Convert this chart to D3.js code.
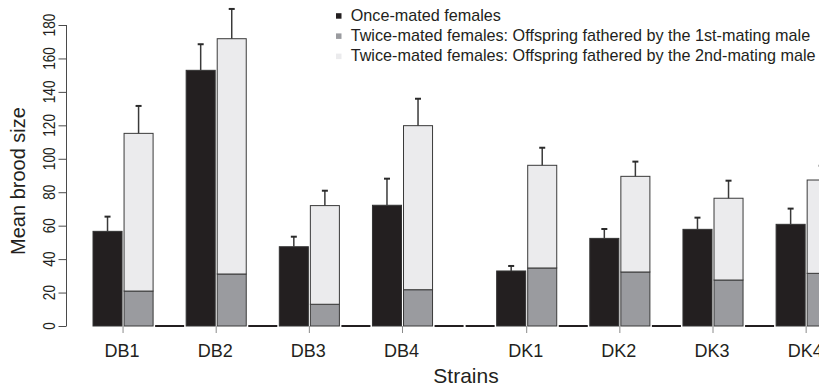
<!DOCTYPE html>
<html>
<head>
<meta charset="utf-8">
<script src="https://cdn.jsdelivr.net/npm/d3@7"></script>
<style>
	html, body { margin: 0; padding: 0; background: #fff; }
	svg { display: block; font-family: "Liberation Sans", Arial, sans-serif; }
</style>
</head>
<body>
<svg id="chart" width="819" height="386"></svg>
<script>
// Values
const strains = ["DB1", "DB2", "DB3", "DB4", "DK1", "DK2", "DK3", "DK4"];
const onceMated = [56.6, 152.9, 47.4, 72.2, 32.9, 52.4, 57.8, 60.8];
const onceMatedErr = [8.8, 15.6, 6.0, 15.9, 3.0, 5.6, 7.0, 9.4];
const firstMale = [20.9, 31.1, 13.0, 21.7, 34.7, 32.3, 27.5, 31.5];
const secondMale = [94.3, 140.7, 59.0, 98.1, 61.4, 57.2, 48.9, 55.8];
const twiceMatedErr = [16.4, 17.8, 8.9, 16.1, 10.5, 8.8, 10.5, 8.6];
const yTicks = [0, 20, 40, 60, 80, 100, 120, 140, 160, 180];

const legendLabels = [
	"Once-mated females",
	"Twice-mated females: Offspring fathered by the 1st-mating male",
	"Twice-mated females: Offspring fathered by the 2nd-mating male",
];

const colors = {
	once: "#231f20",
	first: "#9a9b9f",
	second: "#ebebed",
	ink: "#231f20",
	axis: "#4a4a4a",
};

function whenDocumentLoaded(action) {
	if (document.readyState === "loading") {
		document.addEventListener("DOMContentLoaded", action);
	} else {
		action();
	}
}

function drawChart() {
	const svg = d3.select("#chart");

	// each strain: once-mated bar, stacked twice-mated bar, empty slot;
	// one extra empty slot separates the DB and DK strains
	const slots = [];
	strains.forEach((s, i) => {
		slots.push(s + "-once", s + "-twice", s + "-gap");
		if (s === "DB4") slots.push("break");
	});

	const x = d3
		.scaleBand()
		.domain(slots)
		.range([92, 92 + slots.length * 31.05])
		.paddingInner(0.065)
		.paddingOuter(0.0325);

	const y = d3.scaleLinear().domain([0, 180]).range([326, 25]);

	const rows = strains.map((s, i) => ({
		strain: s,
		once: onceMated[i],
		onceErr: onceMatedErr[i],
		first: firstMale[i],
		second: secondMale[i],
		twiceErr: twiceMatedErr[i],
	}));

	const plot = svg.append("g");

	// zero-height bars in the empty slots
	plot
		.selectAll("line.zero")
		.data(slots.filter((d) => d.endsWith("-gap") || d === "break"))
		.join("line")
		.attr("class", "zero")
		.attr("x1", (d) => x(d))
		.attr("x2", (d) => x(d) + x.bandwidth())
		.attr("y1", y(0))
		.attr("y2", y(0))
		.attr("stroke", colors.ink)
		.attr("stroke-width", 2);

	// once-mated bars
	plot
		.selectAll("rect.once")
		.data(rows)
		.join("rect")
		.attr("class", "once")
		.attr("x", (d) => x(d.strain + "-once"))
		.attr("width", x.bandwidth())
		.attr("y", (d) => y(d.once))
		.attr("height", (d) => y(0) - y(d.once))
		.attr("fill", colors.once)
		.attr("stroke", "#333")
		.attr("stroke-width", 1);

	// twice-mated stacked bars
	const stack = d3.stack().keys(["first", "second"])(rows);
	const stackFill = { first: colors.first, second: colors.second };

	plot
		.selectAll("g.layer")
		.data(stack)
		.join("g")
		.attr("class", "layer")
		.attr("fill", (d) => stackFill[d.key])
		.selectAll("rect")
		.data((d) => d)
		.join("rect")
		.attr("x", (d) => x(d.data.strain + "-twice"))
		.attr("width", x.bandwidth())
		.attr("y", (d) => y(d[1]))
		.attr("height", (d) => y(d[0]) - y(d[1]))
		.attr("stroke", "#3a3a3a")
		.attr("stroke-width", 1);

	// upper error bars
	const errs = [];
	rows.forEach((d) => {
		errs.push({ slot: d.strain + "-once", top: d.once, err: d.onceErr });
		errs.push({ slot: d.strain + "-twice", top: d.first + d.second, err: d.twiceErr });
	});

	const err = plot.selectAll("g.err").data(errs).join("g").attr("class", "err");
	err
		.append("line")
		.attr("x1", (d) => x(d.slot) + x.bandwidth() / 2)
		.attr("x2", (d) => x(d.slot) + x.bandwidth() / 2)
		.attr("y1", (d) => y(d.top))
		.attr("y2", (d) => y(d.top + d.err))
		.attr("stroke", "#3a3a3a")
		.attr("stroke-width", 1.5);
	err
		.append("line")
		.attr("x1", (d) => x(d.slot) + x.bandwidth() / 2 - 3)
		.attr("x2", (d) => x(d.slot) + x.bandwidth() / 2 + 3)
		.attr("y1", (d) => y(d.top + d.err))
		.attr("y2", (d) => y(d.top + d.err))
		.attr("stroke", "#2a2a2a")
		.attr("stroke-width", 2);

	// y axis
	const yAxis = svg
		.append("g")
		.attr("transform", "translate(66.5,0)")
		.call(d3.axisLeft(y).tickValues(yTicks).tickSize(8).tickSizeOuter(0).tickFormat(""));
	yAxis.selectAll("path, line").attr("stroke", colors.axis);
	yAxis.select("path").attr("d", `M0,${y(0)}V${y(180)}`);

	svg
		.append("g")
		.selectAll("text")
		.data(yTicks)
		.join("text")
		.attr("transform", (d) => `translate(55,${y(d)}) rotate(-90)`)
		.attr("text-anchor", "middle")
		.attr("font-size", 17)
		.attr("textLength", (d) => String(d).length * 7.6)
		.attr("lengthAdjust", "spacingAndGlyphs")
		.attr("fill", colors.ink)
		.text((d) => d);

	// x ticks between the two bars of each strain
	const tickX = (s) => x(s + "-once") + x.bandwidth() + (x.step() - x.bandwidth()) / 2;

	const xTicks = svg.append("g");
	xTicks
		.selectAll("line")
		.data(strains)
		.join("line")
		.attr("x1", (d) => tickX(d))
		.attr("x2", (d) => tickX(d))
		.attr("y1", y(0))
		.attr("y2", y(0) + 7)
		.attr("stroke", "#8a8a8a")
		.attr("stroke-width", 1);
	xTicks
		.selectAll("text")
		.data(strains)
		.join("text")
		.attr("x", (d) => tickX(d) - 1)
		.attr("y", 357)
		.attr("text-anchor", "middle")
		.attr("font-size", 18)
		.attr("fill", colors.ink)
		.text((d) => d);

	// axis titles
	svg
		.append("text")
		.attr("x", 466)
		.attr("y", 383)
		.attr("text-anchor", "middle")
		.attr("font-size", 21)
		.attr("fill", colors.ink)
		.text("Strains");

	svg
		.append("text")
		.attr("transform", "translate(25,181) rotate(-90)")
		.attr("text-anchor", "middle")
		.attr("font-size", 20)
		.attr("fill", colors.ink)
		.text("Mean brood size");

	// legend
	const legendFill = [colors.once, colors.first, colors.second];
	const legend = svg
		.append("g")
		.selectAll("g")
		.data(legendLabels)
		.join("g")
		.attr("transform", (d, i) => `translate(336,${20.7 + i * 20.2})`);
	legend
		.append("rect")
		.attr("x", 0)
		.attr("y", -7.5)
		.attr("width", 5.5)
		.attr("height", 5.5)
		.attr("fill", (d, i) => legendFill[i]);
	legend
		.append("text")
		.attr("x", 14.7)
		.attr("y", 0)
		.attr("font-size", 16.2)
		.attr("fill", colors.ink)
		.text((d) => d);
}

whenDocumentLoaded(drawChart);
</script>
</body>
</html>
